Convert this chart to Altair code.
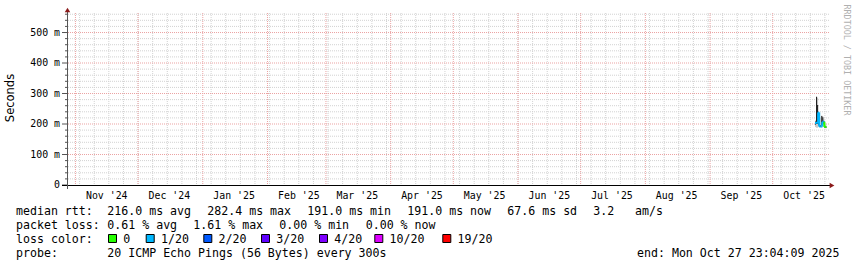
import altair as alt
import pandas as pd

# ---------------- data ----------------
END_DT = alt.DateTime(year=2025, month=10, date=27, hours=23, minutes=4, seconds=9)
START_DT = alt.DateTime(year=2024, month=10, date=27, hours=23, minutes=4, seconds=9)

months = ["2024-11", "2024-12", "2025-01", "2025-02", "2025-03", "2025-04",
          "2025-05", "2025-06", "2025-07", "2025-08", "2025-09", "2025-10"]
month_labels = ["Nov '24", "Dec '24", "Jan '25", "Feb '25", "Mar '25", "Apr '25",
                "May '25", "Jun '25", "Jul '25", "Aug '25", "Sep '25", "Oct '25"]
month_starts = [m + "-01T00:00:00" for m in months]
month_mid = [m + "-16T00:00:00" for m in months]
week_lines = list(pd.date_range("2024-11-03", "2025-10-26", freq="7D").strftime("%Y-%m-%dT00:00:00"))

y_labels = [0, 100, 200, 300, 400, 500]
y_label_text = ["0  ", "100 m", "200 m", "300 m", "400 m", "500 m"]
y_major = [100, 200, 300, 400, 500]
y_minor = [v for v in range(20, 561, 20) if v % 100]

# smokeping samples (ms)
step_start = ["2025-10-21T06:00:00", "2025-10-21T18:00:00", "2025-10-22T06:00:00",
              "2025-10-22T18:00:00", "2025-10-23T06:00:00", "2025-10-23T18:00:00",
              "2025-10-24T06:00:00", "2025-10-24T18:00:00", "2025-10-25T06:00:00",
              "2025-10-25T18:00:00", "2025-10-26T06:00:00"]
step_end = step_start[1:] + ["2025-10-26T18:00:00"]
median_ms = [203, 204, 204, 238, 192, 192, 192, 207, 207, 190, 190]
loss_bucket = ["1/20"] * 9 + ["0", "0"]
smoke_lo = [190, 188, 188, 190, 190, 189, 188, 190, 192, 186, 186]
smoke_hi = [212, 215, 286, 240, 236, 220, 228, 225, 215, 205, 200]
dark_lo = [198, 200, 200, 196, 191, 190, 196, 198, 202, 188, 188]
dark_hi = [208, 289, 262, 205, 196, 196, 226, 222, 210, 194, 192]

loss_labels = ["0", "1/20", "2/20", "3/20", "4/20", "10/20", "19/20"]
loss_colors = ["#26ff00", "#00b8ff", "#0059ff", "#5e00ff", "#7e00ff", "#dd00ff", "#ff0000"]

rtt_stats = ["216.0 ms avg", "282.4 ms max", "191.0 ms min", "191.0 ms now", "67.6 ms sd", "3.2", "am/s"]
loss_stats = ["0.61 % avg", "1.61 % max", "0.00 % min", "0.00 % now"]
probe_text = "20 ICMP Echo Pings (56 Bytes) every 300s"
end_text = "end: Mon Oct 27 23:04:09 2025"

# ---------------- layout ----------------
PL, PT, W, H = 67, 13, 762, 172
MONO = "DejaVu Sans Mono"
NB = "\u00a0"

xs = alt.Scale(domain=[START_DT, END_DT])
ys = alt.Scale(domain=[0, 564], nice=False, zero=False)
loss_scale = alt.Scale(domain=loss_labels, range=loss_colors)
one = alt.Data(values=[{"a": 1}])


def xdate(f):
    return alt.X(f + ":T", scale=xs, axis=None)


def yval(f):
    return alt.Y(f + ":Q", scale=ys, axis=None)


GRID_MINOR = "#d2d2d2"
GRID_MAJOR = "#eba3a3"

grid_minor_x = alt.Chart(pd.DataFrame({"t": week_lines})).mark_rule(
    color=GRID_MINOR, strokeDash=[1, 1], strokeWidth=1).encode(x=xdate("t"))
grid_minor_y = alt.Chart(pd.DataFrame({"v": y_minor})).mark_rule(
    color=GRID_MINOR, strokeDash=[1, 1], strokeWidth=1).encode(y=yval("v"))
grid_major_x = alt.Chart(pd.DataFrame({"t": month_starts})).mark_rule(
    color=GRID_MAJOR, strokeDash=[1, 1], strokeWidth=1).encode(x=xdate("t"))
grid_major_y = alt.Chart(pd.DataFrame({"v": y_major})).mark_rule(
    color=GRID_MAJOR, strokeDash=[1, 1], strokeWidth=1).encode(y=yval("v"))

# axis labels and ticks (through the scales)
y_lab = alt.Chart(pd.DataFrame({"v": y_labels, "lab": [s.replace(" ", NB) for s in y_label_text]})
                  ).mark_text(align="right", baseline="middle", font=MONO, fontSize=9.9,
                              color="#000").encode(
    x=alt.value(-7), y=yval("v"), text="lab:N")
y_major_ticks = alt.Chart(pd.DataFrame({"v": y_labels})).mark_rule(
    color="#555", strokeWidth=1).encode(x=alt.value(-5), x2=alt.value(0), y=yval("v"))
y_minor_ticks = alt.Chart(pd.DataFrame({"v": y_minor})).mark_rule(
    color="#555", strokeWidth=1).encode(x=alt.value(-2), x2=alt.value(0), y=yval("v"))
x_lab = alt.Chart(pd.DataFrame({"t": month_mid, "lab": [s.replace(" ", NB) for s in month_labels]})
                  ).mark_text(align="center", baseline="alphabetic", font=MONO, fontSize=9.9,
                              color="#000").encode(
    x=xdate("t"), y=alt.value(H + 13.5), text="lab:N")

samples = pd.DataFrame({
    "t0": step_start, "t1": step_end, "med": median_ms, "loss": loss_bucket,
    "lo": smoke_lo, "hi": smoke_hi, "dlo": dark_lo, "dhi": dark_hi,
    "prev": [median_ms[0]] + median_ms[:-1],
})

smoke = alt.Chart(samples).mark_rect(color="#c9c9c9").encode(
    x=xdate("t0"), x2="t1:T", y=yval("lo"), y2="hi:Q")
dark = alt.Chart(samples).mark_rect(color="#1c1c1c").encode(
    x=xdate("t0"), x2="t1:T", y=yval("dlo"), y2="dhi:Q")
median = alt.Chart(samples).mark_rule(strokeWidth=2).encode(
    x=xdate("t0"), x2="t1:T", y=yval("med"),
    color=alt.Color("loss:N", scale=loss_scale, legend=None))
connect = alt.Chart(samples).mark_rule(strokeWidth=2).encode(
    x=xdate("t0"), y=yval("prev"), y2="med:Q",
    color=alt.Color("loss:N", scale=loss_scale, legend=None))

x_line = alt.Chart(one).mark_rule(color="#000", strokeWidth=1).encode(
    x=alt.value(-5), x2=alt.value(763), y=alt.value(H + 0.5))
y_line = alt.Chart(one).mark_rule(color="#555", strokeWidth=1).encode(
    x=alt.value(0.5), y=alt.value(-1), y2=alt.value(H + 4))
arrow_up = alt.Chart(one).mark_point(shape="triangle-up", filled=True, size=30,
                                     color="#8b1a1a", opacity=1).encode(
    x=alt.value(0.5), y=alt.value(-3))
arrow_right = alt.Chart(one).mark_point(shape="triangle-right", filled=True, size=30,
                                        color="#8b1a1a", opacity=1).encode(
    x=alt.value(765), y=alt.value(H + 0.5))

seconds = alt.Chart(one).mark_text(angle=270, font="DejaVu Sans", fontSize=11.5,
                                   color="#000").encode(
    x=alt.value(11 - PL), y=alt.value(98 - PT), text=alt.value("Seconds"))
credit = alt.Chart(one).mark_text(angle=90, font=MONO, fontSize=8.4,
                                  color="#b0b0b0").encode(
    x=alt.value(847 - PL), y=alt.value(60 - PT), text=alt.value("RRDTOOL / TOBI OETIKER"))

# footer
rows = []
rows.append(("median rtt:", 16, 215))
for s, px in zip(rtt_stats, [107.3, 207.3, 307.3, 407.3, 507.3, 593.3, 635]):
    rows.append((s, px, 215))
rows.append(("packet loss:", 16, 229))
for s, px in zip(loss_stats, [107.3, 193.3, 279.3, 365.7]):
    rows.append((s, px, 229))
rows.append(("loss color:", 16, 243))
sq_left = [108, 145.7, 203.3, 261, 319, 374.3, 442.3]
for s, px in zip(loss_labels, sq_left):
    rows.append((s, px + 15.3, 243))
rows.append(("probe:", 16, 257))
rows.append((probe_text, 107.3, 257))
rows.append((end_text, 637, 257))
footer_df = pd.DataFrame({
    "txt": [r[0].replace(" ", NB) for r in rows],
    "px": [r[1] - PL for r in rows],
    "py": [r[2] - PT for r in rows],
})
footer = alt.Chart(footer_df).mark_text(font=MONO, fontSize=11.6, color="#000",
                                        align="left", baseline="alphabetic").encode(
    x=alt.X("px:Q", scale=None, axis=None), y=alt.Y("py:Q", scale=None, axis=None),
    text="txt:N")

squares_df = pd.DataFrame({
    "loss": loss_labels,
    "px": [x + 4.5 - PL for x in sq_left],
    "py": [238.5 - PT] * len(loss_labels),
})
squares = alt.Chart(squares_df).mark_square(size=64, filled=True, stroke="#000",
                                             strokeWidth=1, opacity=1).encode(
    x=alt.X("px:Q", scale=None, axis=None), y=alt.Y("py:Q", scale=None, axis=None),
    fill=alt.Fill("loss:N", scale=loss_scale, legend=None))

chart = alt.layer(
    grid_minor_x, grid_minor_y, grid_major_x, grid_major_y,
    smoke, dark, median, connect,
    y_minor_ticks, y_major_ticks, y_lab, x_lab,
    x_line, y_line, arrow_up, arrow_right,
    seconds, credit, footer, squares,
).properties(
    width=W, height=H,
    padding={"left": PL, "top": PT, "right": 857 - PL - W, "bottom": 267 - PT - H},
    autosize=alt.AutoSizeParams(type="none"),
    background="white",
).configure_view(stroke=None)

chart.save("out.html", embed_options={"renderer": "svg", "actions": False})
